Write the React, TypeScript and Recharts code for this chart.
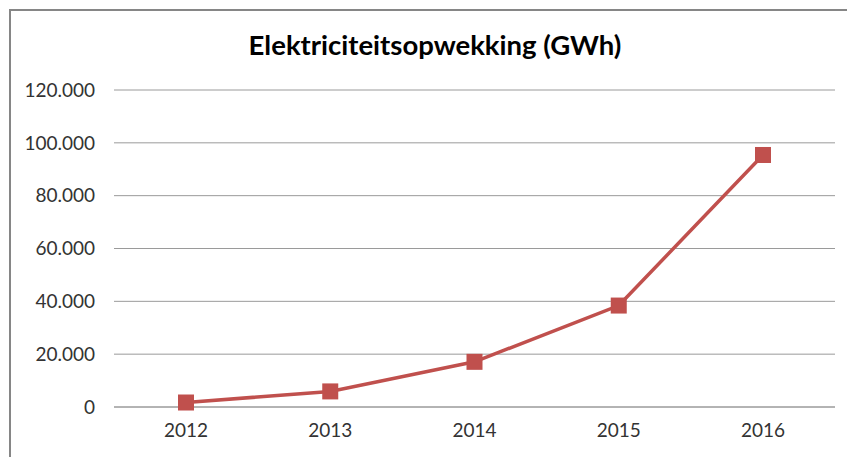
import React from 'react';
import { LineChart, Line, XAxis, YAxis, CartesianGrid } from 'recharts';

const years = ['2012', '2013', '2014', '2015', '2016'];
const gwh = [1700, 5900, 17100, 38400, 95400];
const yTicks = [0, 20000, 40000, 60000, 80000, 100000, 120000];
const title = 'Elektriciteitsopwekking (GWh)';

const data = years.map((y, i) => ({ year: y, value: gwh[i] }));

const fmt = (v: number) => String(v).replace(/\B(?=(\d{3})+(?!\d))/g, '.');

const SquareDot = (props: any) => {
  const { cx, cy, index } = props;
  if (cx == null || cy == null) return <g key={`d${index}`} />;
  return <rect key={`d${index}`} x={cx - 8} y={cy - 8} width={16} height={16} fill="#C0504D" />;
};

export default function App() {
  const font = 'Lato, "Open Sans", sans-serif';
  return (
    <div style={{ position: 'absolute', left: 0, top: 0, width: 847, height: 457, overflow: 'hidden', background: '#fff' }}>
      <div
        style={{
          position: 'absolute',
          left: 9,
          top: 9,
          width: 860,
          height: 470,
          borderLeft: '2px solid #868686',
          borderTop: '2px solid #868686',
        }}
      />
      <div
        style={{
          position: 'absolute',
          left: 0,
          width: 870,
          top: 28,
          textAlign: 'center',
          fontFamily: font,
          fontWeight: 700,
          fontSize: 27.5,
          color: '#000',
        }}
      >
        {title}
      </div>
      <div style={{ position: 'absolute', left: 0, top: 0 }}>
        <LineChart width={847} height={457} data={data} margin={{ top: 90, right: 12, bottom: 0, left: 0 }}>
          <CartesianGrid vertical={false} stroke="#9a9a9a" strokeWidth={1} />
          <XAxis
            dataKey="year"
            height={50}
            padding={{ left: 72, right: 72 }}
            tickLine={false}
            axisLine={{ stroke: '#9a9a9a' }}
            tick={{ fill: '#333', fontFamily: font, fontSize: 19 }}
            tickMargin={11}
          />
          <YAxis
            width={114}
            domain={[0, 120000]}
            ticks={yTicks}
            tickFormatter={fmt}
            axisLine={false}
            tickLine={false}
            tick={{ fill: '#333', fontFamily: font, fontSize: 19 }}
            tickMargin={13}
          />
          <Line
            type="linear"
            dataKey="value"
            stroke="#C0504D"
            strokeWidth={3.5}
            dot={SquareDot}
            activeDot={false}
            isAnimationActive={false}
          />
        </LineChart>
      </div>
    </div>
  );
}
